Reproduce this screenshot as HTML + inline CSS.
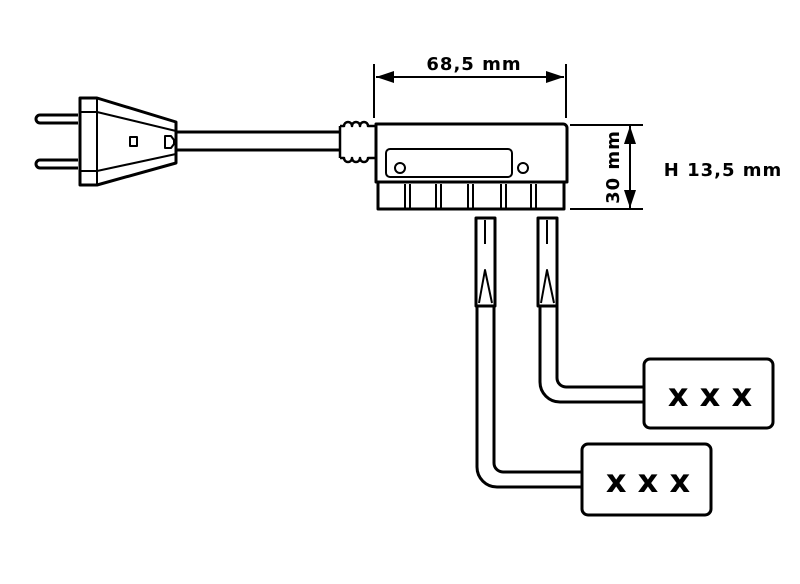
<!DOCTYPE html>
<html><head><style>body{margin:0;background:#fff}svg{display:block}</style></head><body>
<svg width="800" height="584" viewBox="0 0 800 584" xmlns="http://www.w3.org/2000/svg" font-family="DejaVu Sans, sans-serif" font-weight="bold">
<g fill="none" stroke="#000" stroke-width="3" stroke-linejoin="round">
<path d="M78 115 H40 a4 4 0 0 0 0 8 H78"/>
<path d="M78 160 H40 a4 4 0 0 0 0 8 H78"/>
<path d="M80 98 H97 L176 122 V163 L97 185 H80 Z"/>
<path d="M80 112 H97 L176 131 M80 171 H97 L176 154 M97 98 V185" stroke-width="2"/>
<rect x="130" y="137" width="7" height="9" stroke-width="2"/>
<path d="M165 136 h6 l3 4 v4 l-3 4 h-6 Z" stroke-width="2"/>
<path d="M177 132 H340 M177 150 H340"/>
<path d="M340 126 h4 a4 4 0 0 1 8 0 a4 4 0 0 1 8 0 a4 4 0 0 1 8 0 h8 M340 158 h4 a4 4 0 0 0 8 0 a4 4 0 0 0 8 0 a4 4 0 0 0 8 0 h8 M340 126 V158" stroke-width="2.5"/>
<path d="M376 124 H563 a4 4 0 0 1 4 4 V182 H376 Z"/>
<rect x="386" y="149" width="126" height="28" rx="4" stroke-width="2"/>
<circle cx="400" cy="168" r="5" stroke-width="2"/>
<circle cx="523" cy="168" r="5" stroke-width="2"/>
<rect x="378" y="182" width="186" height="27"/>
<path d="M405 184V208M410 184V208M436 184V208M441 184V208M468 184V208M473 184V208M501 184V208M506 184V208M531 184V208M536 184V208" stroke-width="2"/>
<rect x="476" y="218" width="19" height="88"/>
<path d="M485 220V244M479 303L485 270L492 303" stroke-width="2"/>
<rect x="538" y="218" width="19" height="88"/>
<path d="M547 220V244M541 303L547 270L554 303" stroke-width="2"/>
<path d="M540 306 V382 a20 20 0 0 0 20 20 H644 M557 306 V378 a9 9 0 0 0 9 9 H644"/>
<path d="M477 306 V467 a20 20 0 0 0 20 20 H582 M494 306 V463 a9 9 0 0 0 9 9 H582"/>
<rect x="644" y="359" width="129" height="69" rx="6"/>
<rect x="582" y="444" width="129" height="71" rx="6"/>
<path d="M374 64 V118 M566 64 V118 M376 77 H564" stroke-width="2"/>
<path d="M570 125 H643 M570 209 H643 M630 126 V208" stroke-width="2"/>
</g>
<g fill="#000">
<path d="M376 77 l18 -6 v12 Z M564 77 l-18 -6 v12 Z M630 126 l-6 18 h12 Z M630 208 l-6 -18 h12 Z"/>
<text x="474" y="70" font-size="18" letter-spacing="1" text-anchor="middle">68,5 mm</text>
<text x="723" y="176" font-size="18" letter-spacing="1" text-anchor="middle">H 13,5 mm</text>
<text transform="translate(619 167) rotate(-90)" font-size="18" letter-spacing="1" text-anchor="middle">30 mm</text>
<text x="710" y="406" font-size="32" text-anchor="middle">x x x</text>
<text x="648" y="492" font-size="32" text-anchor="middle">x x x</text>
</g>
</svg>
</body></html>
